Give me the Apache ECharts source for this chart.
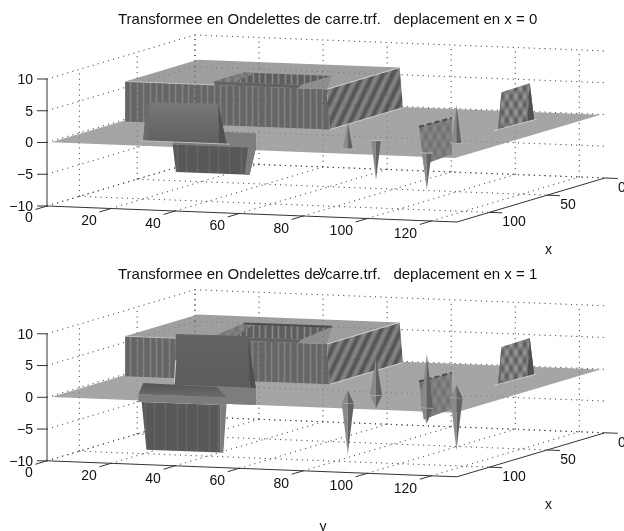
<!DOCTYPE html>
<html><head><meta charset="utf-8">
<style>html,body{margin:0;padding:0;background:#fff}#c{width:624px;height:531px}</style>
<script src="https://cdn.jsdelivr.net/npm/echarts@6/dist/echarts.min.js"></script>
</head><body><div id="c"></div>
<script>
// ---- tick labels and titles ----
const yTicks = [0, 20, 40, 60, 80, 100, 120];
const xTicks = [0, 50, 100];
const zTicks = [-10, -5, 0, 5, 10];
const titleA = 'Transformee en Ondelettes de carre.trf.   deplacement en x = 0';
const titleB = 'Transformee en Ondelettes de carre.trf.   deplacement en x = 1';

// ---- spikes: y, x, height above and depth below the plane ----
const spikeY = [88.5, 89, 114.6, 113.4];
const spikeX = [113, 90, 117, 88];
const spikeUpA = [4, 0, 0, 6];
const spikeDownA = [0, -6.2, -5.8, 0];
const spikeUpB = [2, 6, 8.5, 2];
const spikeDownB = [-8, -2, -2.5, -8.3];

// ---- surface facets, as [tone, [y, x, z], ...] ----
const planeFacet = [['plane', [1,127,0], [127,127,0], [127,1,0], [1,1,0]]];
const bigBlock = [
  ['top', [2,66,6.3], [65,66,6.3], [65,3,6.3], [2,3,6.3]],
  ['wall', [2,66,0], [66,66,0], [65,66,6.3], [2,66,6.3]],
  ['diag', [66,66,0], [66,3,0], [65,3,6.3], [65,66,6.3]],
  ['lite', [65,66,6.3], [65,3,6.3]],
  ['lite', [66,66,0], [66,3,0]],
  ['liteSoft', [2,66,6.3], [30,66,6.3]],
];
const pitA = [
  ['pit', [26.5,57,6.3], [54,57,6.3], [54,31,6.3], [26.5,31,6.3]],
  ['crossSoft', [26.5,57,6.3], [26.5,31,6.3], [30,31,6.3], [33,57,6.3]],
  ['band', [30,66,6.3], [56,66,6.3], [54,57,6.3], [26.5,57,6.3]],
  ['ramp', [54,57,6.3], [54,31,6.3], [65,66,6.3], [56,66,6.3]],
];
const pitB = [
  ['pit', [26.5,57,6.3], [54,57,6.3], [54,31,6.9], [26.5,31,6.9]],
  ['crossSoft', [26.5,57,6.3], [26.5,31,6.9], [30,31,6.9], [33,57,6.3]],
  ['band', [30,66,6.3], [56,66,6.3], [54,57,6.3], [26.5,57,6.3]],
  ['ramp', [54,57,6.3], [54,31,6.9], [65,66,6.3], [56,66,6.3]],
  ['rim', [26.5,31,6.9], [54,31,6.9]],
];
const detailWalls = [
  ['crossStrong', [113,51,0], [113.5,21,0], [113,23.5,5.9], [113,48,5.8]],
  ['sideDark', [113,23.5,5.9], [113.5,21,0], [113,25.5,0]],
  ['sideMid', [113,48,5.8], [113,51,0], [113,48.5,0]],
  ['lite', [112.5,53,0], [113.5,19,0]],
  ['crossSoft', [88,50,0], [89,24.5,0], [89,24.5,-5.7], [88,46,-6.2]],
  ['rimDash', [88,50,0], [89,24.5,0]],
];
const frontA = [
  ['lip', [23,83,0], [49,83,0], [49,83,-2.3], [23,83,-2.3]],
  ['wallDark', [23,83,-2.3], [49,83,-2.3], [47,83,-6.6], [24,83,-6.6]],
  ['lip', [45.5,83,-6.6], [47,83,-6.6], [49,83,-2.3], [46.5,83,-2.3]],
  ['ridge', [25,114,0], [48.5,114,0], [48.5,114,6.3], [26,114,6.14]],
  ['sideDark', [48.5,114,6.3], [51,114,0], [48.5,114,0]],
  ['sideMid', [26,114,6.14], [25,114,0], [26.5,114,0], [27,114,6.14]],
  ['liteSoft', [24,114,0], [52,114,0]],
];
const frontB = [
  ['lip', [30,83,0], [49,83,0], [49,83,-2.7], [30,83,-2.7]],
  ['ridgeDark', [23.5,83,0], [47,83,0], [46.5,83,8.1], [24,83,8]],
  ['sideDark', [46.5,83,8.1], [49,83,0], [47,83,0]],
  ['lite', [23.5,83,0.2], [24,83,4]],
  ['cap', [25,114,2], [48,114,1.8], [51,114,0.2], [23.5,114,0.2]],
  ['lip', [23.5,114,0.2], [51,114,0.2], [51,114,-1], [23.5,114,-1]],
  ['wallDark', [24.5,114,-1], [49,114,-1], [49,114,-8.5], [26,114,-8.5]],
  ['lip', [49,114,-8.5], [50,114,-8.5], [51,114,-1], [49,114,-1]],
];

// ---- fills ----
function tile(w, h, fn) {
  const cv = document.createElement('canvas'); cv.width = w; cv.height = h;
  const ctx = cv.getContext('2d'), im = ctx.createImageData(w, h);
  for (let j = 0; j < h; j++) for (let i = 0; i < w; i++) {
    const g = Math.max(0, Math.min(255, fn(i, j))), k = (j * w + i) * 4;
    im.data[k] = im.data[k+1] = im.data[k+2] = g; im.data[k+3] = 255;
  }
  ctx.putImageData(im, 0, 0);
  return { image: cv, repeat: 'repeat' };
}
const lineSet = (pos, base, hi) => (i) => {
  let g = base;
  pos.forEach(p => { const d = Math.abs(i - p); if (d < 0.5) g = hi; else if (d < 1.5) g = Math.max(g, base + (hi - base) * 0.3); });
  return g;
};
const TAU = Math.PI * 2;
const vGrad = (a, b) => new echarts.graphic.LinearGradient(0, 0, 0, 1, [{offset:0,color:a},{offset:1,color:b}]);
const fills = {
  plane: '#a5a5a5', top: '#9e9e9e', ramp: '#8e8e8e', band: '#626262',
  lip: '#7d7d7d', sideDark: '#505050', sideMid: '#6c6c6c',
  spikeL: '#8a8a8a', spikeR: '#626262',
  wall: tile(32, 2, lineSet([2, 9, 15, 22, 28], 102, 130)),
  pit: tile(32, 2, lineSet([3, 9, 16, 22, 29], 94, 138)),
  wallDark: tile(32, 2, lineSet([5, 17, 26], 88, 102)),
  diag: tile(10, 21, (i, j) => 108 + 24 * Math.sin(TAU * (i / 10 + j / 21))),
  crossStrong: tile(9, 16, (i, j) => 122 + 15 * Math.sin(TAU * (i / 9 + j / 16)) + 15 * Math.sin(TAU * (i / 9 - j / 16))),
  crossSoft: tile(9, 16, (i, j) => 124 + 6 * Math.sin(TAU * (i / 9 + j / 16)) + 6 * Math.sin(TAU * (i / 9 - j / 16))),
  ridge: vGrad('#787878', '#606060'),
  ridgeDark: vGrad('#646464', '#5c5c5c'),
  cap: vGrad('#555555', '#6c6c6c'),
};
const strokes = {
  lite: { stroke: '#cfcfcf', lineWidth: 1 },
  liteSoft: { stroke: '#bdbdbd', lineWidth: 1 },
  rim: { stroke: '#505050', lineWidth: 2 },
  rimDash: { stroke: '#4c4c4c', lineWidth: 2, lineDash: [5, 3] },
  gridDark: { stroke: '#5a5a5a', lineWidth: 1, lineDash: [1, 4.3] },
  gridFaint: { stroke: 'rgba(40,40,40,0.35)', lineWidth: 1, lineDash: [1, 4.3] },
  axis: { stroke: '#333333', lineWidth: 1 },
};

// ---- box furniture ----
function gridLines(tone) {
  const out = [];
  yTicks.forEach(y => {
    out.push([tone, [y,128,-10], [y,0,-10]]);
    out.push([tone, [y,0,-10], [y,0,10]]);
  });
  xTicks.forEach(x => {
    out.push([tone, [0,x,-10], [128,x,-10]]);
    out.push([tone, [0,x,-10], [0,x,10]]);
  });
  zTicks.forEach(z => {
    out.push([tone, [0,128,z], [0,0,z]]);
    out.push([tone, [0,0,z], [128,0,z]]);
  });
  return out;
}
function axisLines() {
  const out = [
    ['axis', [0,128,-10], [0,128,10]],
    ['axis', [0,128,-10], [128,128,-10]],
    ['axis', [128,128,-10], [128,0,-10]],
  ];
  zTicks.forEach(z => out.push(['axis', [0,128,z], [-2.76,129,z]]));
  yTicks.forEach(y => out.push(['axis', [y,128,-10], [y,138,-10]]));
  xTicks.forEach(x => out.push(['axis', [128,x,-10], [132,x,-10]]));
  return out;
}
function spikeFacets(up, down, w) {
  const out = [];
  [1, 0, 3, 2].forEach(i => {
    const y = spikeY[i], x = spikeX[i];
    if (down[i] < 0) {
      out.push(['spikeL', [y-w,x,0], [y,x,0], [y,x,down[i]]]);
      out.push(['spikeR', [y,x,0], [y+w,x,0], [y,x,down[i]]]);
    }
    out.push(['liteSoft', [y-2,x,0], [y+2,x,0]]);
    if (up[i] > 0) {
      out.push(['spikeL', [y-w,x,0], [y,x,0], [y,x,up[i]]]);
      out.push(['spikeR', [y,x,0], [y+w,x,0], [y,x,up[i]]]);
    }
  });
  return out;
}
function labels() {
  const out = [];
  zTicks.forEach(z => out.push({ t: String(z).replace('-', '\u2212'), p: [0,128,z], dx: -14, dy: 1, a: 'right' }));
  yTicks.forEach(y => out.push({ t: String(y), p: [y,128,-10], dx: y === 0 ? -18 : (y >= 100 ? -26 : -22), dy: y ? 13 : 12, a: 'center' }));
  xTicks.forEach(x => out.push({ t: String(x), p: [128,x,-10], dx: 13, dy: 10, a: 'left' }));
  out.push({ t: 'x', p: [128,60,-10], dx: 13, dy: 52, a: 'center' });
  out.push({ t: 'y', p: [64,128,-10], dx: 71, dy: 58, a: 'center' });
  return out;
}

// ---- oblique view: plane coordinates read by the hidden axes ----
const toPlane = ([y, x, z]) => {
  const t = 128 - x;
  return [y + 0.3609 * t, z + 0.05417 * t - 0.01969 * y];
};
const FONT = '14px "Liberation Sans", Arial, sans-serif';
function renderFacet(list) {
  return function (params, api) {
    const f = list[params.dataIndex];
    if (f.t !== undefined) {
      const c = api.coord(toPlane(f.p));
      return { type: 'text', style: { text: f.t, x: c[0] + f.dx, y: c[1] + f.dy, fill: '#111', font: FONT, textAlign: f.a, textVerticalAlign: 'middle' }, silent: true };
    }
    const pts = f.slice(1).map(p => api.coord(toPlane(p)));
    if (strokes[f[0]]) {
      return { type: 'polyline', shape: { points: pts }, style: Object.assign({ fill: null }, strokes[f[0]]), silent: true };
    }
    return { type: 'polygon', shape: { points: pts }, style: { fill: fills[f[0]], stroke: null }, silent: true };
  };
}
function panelSeries(idx, pit, front, up, down, w) {
  const list = [].concat(
    gridLines('gridDark'), axisLines(), planeFacet, bigBlock, pit, gridLines('gridFaint'),
    detailWalls, front, spikeFacets(up, down, w), labels()
  );
  return {
    type: 'custom', coordinateSystem: 'cartesian2d', xAxisIndex: idx, yAxisIndex: idx,
    data: list.map((_, i) => [i]), renderItem: renderFacet(list), animation: false, silent: true, clip: false,
    encode: { x: -1, y: -1 }
  };
}
const chart = echarts.init(document.getElementById('c'), null, { renderer: 'canvas' });
const tops = [34.55, 289.35];
chart.setOption({
  animation: false, backgroundColor: '#fff',
  title: [titleA, titleB].map((text, i) => ({
    text, left: 118, top: i ? 267 : 12, padding: 0,
    textStyle: { fontFamily: '"Liberation Sans", Arial, sans-serif', fontWeight: 'normal', fontSize: 15, color: '#111' }
  })),
  grid: tops.map(top => ({ left: 47, top, width: 576.54, height: 171.45 })),
  xAxis: tops.map((_, i) => ({ type: 'value', gridIndex: i, min: 0, max: 180, show: false })),
  yAxis: tops.map((_, i) => ({ type: 'value', gridIndex: i, min: -10, max: 17, show: false })),
  series: [
    panelSeries(0, pitA, frontA, spikeUpA, spikeDownA, 1.5),
    panelSeries(1, pitB, frontB, spikeUpB, spikeDownB, 1.9)
  ]
});
</script></body></html>
